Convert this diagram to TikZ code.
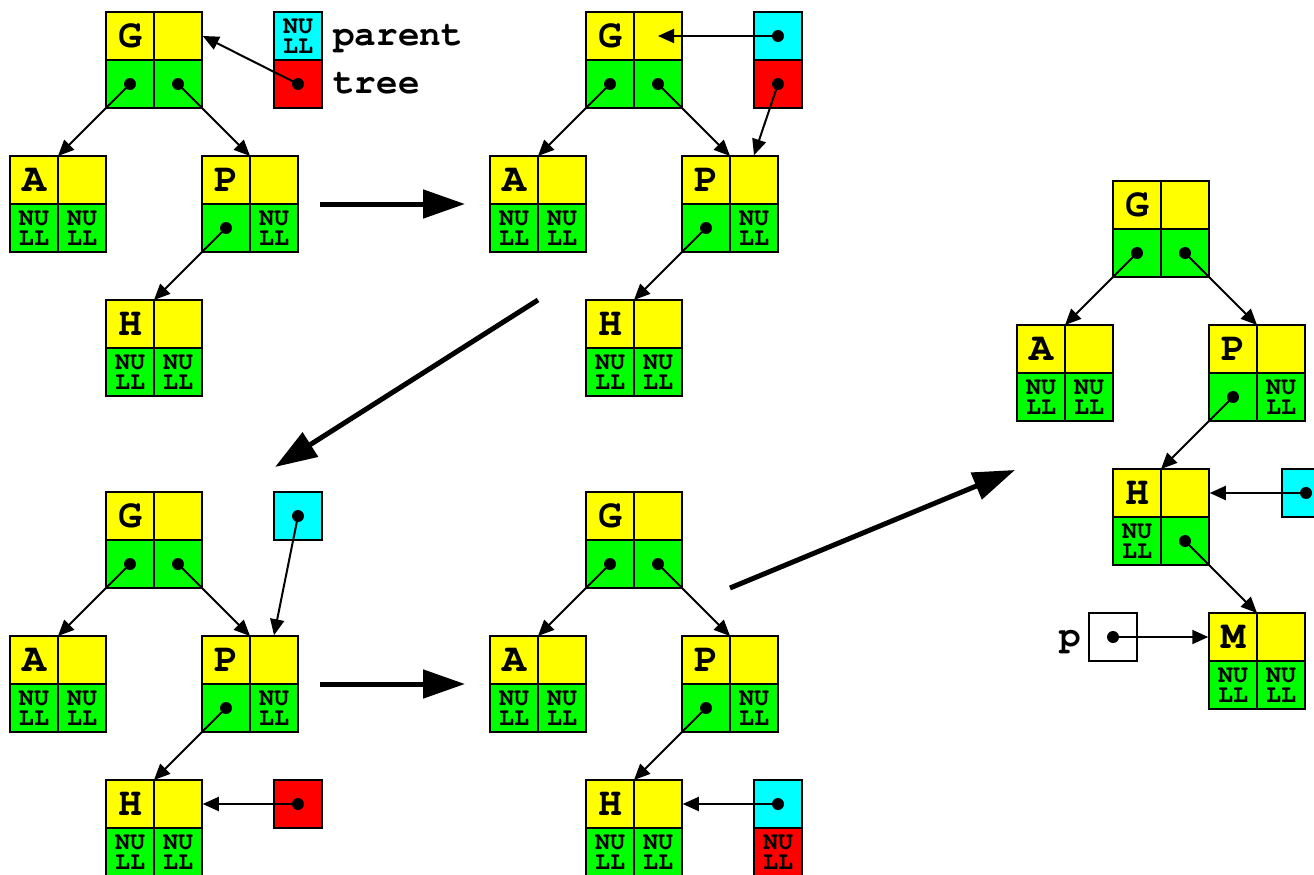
\documentclass[tikz,border=0pt]{standalone}
\usepackage{fontspec}
\setmainfont{TeX Gyre Cursor}
\usetikzlibrary{arrows.meta}
\definecolor{yel}{RGB}{255,255,0}
\definecolor{grn}{RGB}{0,255,0}
\definecolor{cyn}{RGB}{0,255,255}
\definecolor{rd}{RGB}{255,0,0}
\tikzset{
  cell/.style={draw, line width=1.5pt, minimum size=48pt, inner sep=0pt, anchor=center},
  ycell/.style={cell, fill=yel, font=\bfseries\fontsize{40}{40}\selectfont},
  nulfont/.style={font=\bfseries\fontsize{25}{20}\selectfont, align=center},
  gcell/.style={cell, fill=grn, nulfont},
  ccell/.style={cell, fill=cyn, nulfont},
  rcell/.style={cell, fill=rd, nulfont},
  wcell/.style={cell, fill=white},
  ptr/.style={line width=2pt, -{Triangle[length=16pt,width=14pt]}},
  bigarrow/.style={line width=5pt, -{Triangle[length=42pt,width=28pt]}},
  lbl/.style={font=\bfseries\fontsize{36}{36}\selectfont, anchor=base west, inner sep=0pt}
}
\newcommand\nul{NU\\LL}
\newcommand\tnode[6]{%
  \node[ycell] (#1-k) at (#2+24,#3+24) {#4};
  \node[ycell] (#1-v) at (#2+72,#3+24) {};
  \node[gcell] (#1-l) at (#2+24,#3+72) {#5};
  \node[gcell] (#1-r) at (#2+72,#3+72) {#6};
  \coordinate (#1) at (#2+48,#3);
}
\newcommand\dotat[1]{\fill (#1.center) circle (6);}
\begin{document}
\begin{tikzpicture}[x=1pt,y=-1pt]
\useasboundingbox (0,0) rectangle (1314,875);
% ---------------- panel 1
\tnode{G1}{106}{12}{G}{}{}
\tnode{A1}{10}{156}{A}{\nul}{\nul}
\tnode{P1}{202}{156}{P}{}{\nul}
\tnode{H1}{106}{300}{H}{\nul}{\nul}
\node[ccell] (par1) at (298,36) {\nul};
\node[rcell] (tr1) at (298,84) {};
\node[lbl] (lp1) at (333,46) {parent};
\node[lbl] (lt1) at (333,93) {tree};
\dotat{G1-l}\dotat{G1-r}\dotat{P1-l}\dotat{tr1}
\draw[ptr] (G1-l.center) -- (A1);
\draw[ptr] (G1-r.center) -- (P1);
\draw[ptr] (P1-l.center) -- (H1);
\draw[ptr] (tr1.center) -- (G1-v.east);
% ---------------- panel 2
\tnode{G2}{586}{12}{G}{}{}
\tnode{A2}{490}{156}{A}{\nul}{\nul}
\tnode{P2}{682}{156}{P}{}{\nul}
\tnode{H2}{586}{300}{H}{\nul}{\nul}
\node[ccell] (par2) at (778,36) {};
\node[rcell] (tr2) at (778,84) {};
\dotat{G2-l}\dotat{G2-r}\dotat{P2-l}\dotat{par2}\dotat{tr2}
\draw[ptr] (G2-l.center) -- (A2);
\draw[ptr] (G2-r.center) -- (P2);
\draw[ptr] (P2-l.center) -- (H2);
\draw[ptr] (par2.center) -- (G2-v.center);
\draw[ptr] (tr2.center) -- (P2-v.north);
% ---------------- panel 3
\tnode{G3}{106}{492}{G}{}{}
\tnode{A3}{10}{636}{A}{\nul}{\nul}
\tnode{P3}{202}{636}{P}{}{\nul}
\tnode{H3}{106}{780}{H}{\nul}{\nul}
\node[ccell] (par3) at (298,516) {};
\node[rcell] (tr3) at (298,804) {};
\dotat{G3-l}\dotat{G3-r}\dotat{P3-l}\dotat{par3}\dotat{tr3}
\draw[ptr] (G3-l.center) -- (A3);
\draw[ptr] (G3-r.center) -- (P3);
\draw[ptr] (P3-l.center) -- (H3);
\draw[ptr] (par3.center) -- (P3-v.north);
\draw[ptr] (tr3.center) -- (H3-v.east);
% ---------------- panel 4
\tnode{G4}{586}{492}{G}{}{}
\tnode{A4}{490}{636}{A}{\nul}{\nul}
\tnode{P4}{682}{636}{P}{}{\nul}
\tnode{H4}{586}{780}{H}{\nul}{\nul}
\node[ccell] (par4) at (778,804) {};
\node[rcell] (tr4) at (778,852) {\nul};
\dotat{G4-l}\dotat{G4-r}\dotat{P4-l}\dotat{par4}
\draw[ptr] (G4-l.center) -- (A4);
\draw[ptr] (G4-r.center) -- (P4);
\draw[ptr] (P4-l.center) -- (H4);
\draw[ptr] (par4.center) -- (H4-v.east);
% ---------------- panel 5
\tnode{G5}{1113}{181}{G}{}{}
\tnode{A5}{1017}{325}{A}{\nul}{\nul}
\tnode{P5}{1209}{325}{P}{}{\nul}
\tnode{H5}{1113}{469}{H}{\nul}{}
\tnode{M5}{1209}{613}{M}{\nul}{\nul}
\node[ccell] (par5) at (1306,493) {};
\node[wcell] (pb5) at (1113,637) {};
\node[lbl, anchor=base east] (lpv) at (1081,646) {p};
\dotat{G5-l}\dotat{G5-r}\dotat{P5-l}\dotat{H5-r}\dotat{par5}\dotat{pb5}
\draw[ptr] (G5-l.center) -- (A5);
\draw[ptr] (G5-r.center) -- (P5);
\draw[ptr] (P5-l.center) -- (H5);
\draw[ptr] (H5-r.center) -- (M5);
\draw[ptr] (par5.center) -- (H5-v.east);
\draw[ptr] (pb5.center) -- (M5-k.west);
% ---------------- big arrows
\coordinate (b1s) at (320,204); \coordinate (b1e) at (465,204);
\coordinate (b2s) at (538,300); \coordinate (b2e) at (275,467);
\coordinate (b3s) at (320,684); \coordinate (b3e) at (465,684);
\coordinate (b4s) at (730,588); \coordinate (b4e) at (1015,470);
\draw[bigarrow] (b1s) -- (b1e);
\draw[bigarrow] (b2s) -- (b2e);
\draw[bigarrow] (b3s) -- (b3e);
\draw[bigarrow] (b4s) -- (b4e);
\end{tikzpicture}
\end{document}
